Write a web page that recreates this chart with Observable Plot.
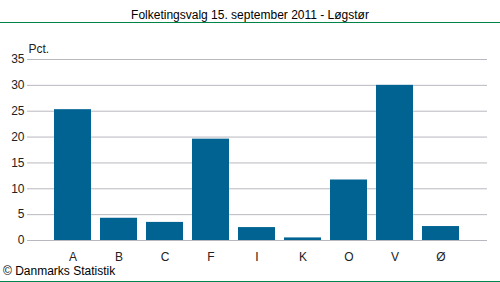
<!DOCTYPE html>
<html>
<head>
<meta charset="utf-8">
<script src="https://cdn.jsdelivr.net/npm/d3@7"></script>
<script src="https://cdn.jsdelivr.net/npm/@observablehq/plot@0.6"></script>
<style>
  html, body { margin: 0; padding: 0; background: #fff; }
  body { width: 500px; height: 282px; overflow: hidden; font-family: "Liberation Sans", Arial, sans-serif; }
  #title { height: 23px; border-bottom: 1px solid #00844a; text-align: center; font-size: 12px; line-height: 30px; color: #000; box-sizing: border-box; }
  #caption { height: 19px; border-bottom: 1px solid #00844a; box-sizing: border-box; font-size: 12px; line-height: 17px; padding-left: 3px; color: #000; }
  svg { display: block; }
</style>
</head>
<body>
<div id="title">Folketingsvalg 15. september 2011 - Løgstør</div>
<div id="chart"></div>
<div id="caption">© Danmarks Statistik</div>
<script>
const parties = ["A", "B", "C", "F", "I", "K", "O", "V", "Ø"];
const values = [25.3, 4.3, 3.5, 19.6, 2.5, 0.5, 11.7, 30.0, 2.7];
const yTicks = [0, 5, 10, 15, 20, 25, 30, 35];
const yLabel = "Pct.";

const data = parties.map((p, i) => ({party: p, value: values[i]}));

const chart = Plot.plot({
  width: 500,
  height: 240,
  marginLeft: 27,
  marginRight: 13,
  marginTop: 36,
  marginBottom: 23,
  style: {fontFamily: "'Liberation Sans', Arial, sans-serif", fontSize: "12px", color: "#222", background: "#fff"},
  x: {domain: parties, paddingInner: 0.2, paddingOuter: 0.1, insetLeft: 22, insetRight: 23, label: null},
  y: {domain: [0, 35], label: null},
  marks: [
    Plot.gridY(yTicks, {stroke: "#b8b8c0", strokeOpacity: 1, strokeWidth: 1}),
    Plot.barY(data, {x: "party", y: "value", fill: "#006392"}),
    Plot.axisY(yTicks, {tickSize: 0, tickPadding: 3, label: null, fontSize: 12}),
    Plot.axisX({tickSize: 0, tickPadding: 12, label: null, fontSize: 12}),
    Plot.text([yLabel], {frameAnchor: "top-left", dx: 1, dy: -15, text: d => d, textAnchor: "start", fontSize: 12})
  ]
});
document.getElementById("chart").appendChild(chart);
</script>
</body>
</html>
